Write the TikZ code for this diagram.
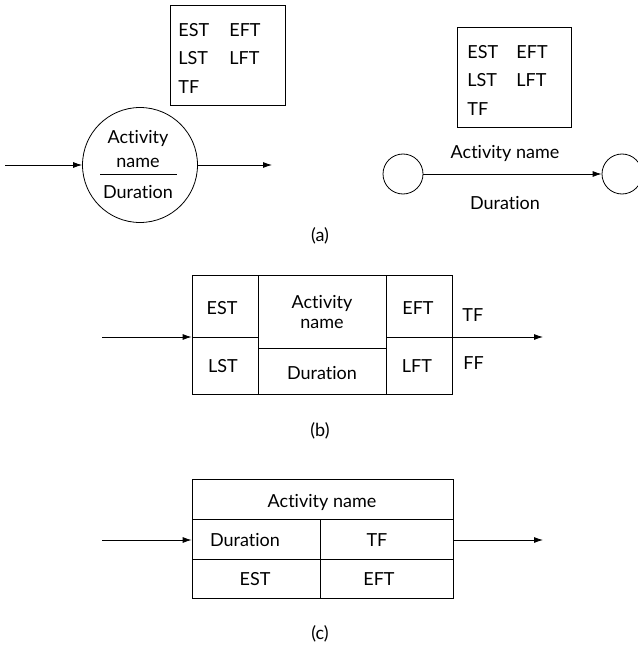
\documentclass[tikz,border=0pt]{standalone}
\usepackage{fontspec}
\setmainfont{Lato}[Ligatures={NoCommon,NoRare}]
\usetikzlibrary{arrows.meta}
\begin{document}
\begin{tikzpicture}[x=1pt,y=-1pt, line width=0.8pt,
  lbl/.style={font=\fontsize{18}{20}\selectfont, inner sep=0pt, text height=13pt, text depth=0pt},
  lw/.style={lbl, anchor=west},
  arr/.style={-{Latex[length=9pt,width=6pt]}},
  frame/.style={draw, inner sep=0pt},
  evt/.style={draw, circle, minimum size=40pt, inner sep=0pt}]
\useasboundingbox (0,0) rectangle (637,647);

% ---------- (a) left: activity on node ----------
\node[draw, circle, minimum size=115pt, inner sep=0pt] (c1) at (140,165) {};
\node[lbl] (c1a) at (138,137) {Activity};
\node[lbl] (c1b) at (138,161) {name};
\draw (100,174) -- (177,174);
\node[lbl] (c1c) at (138,192) {Duration};
\coordinate (a1in) at (5,165);
\coordinate (a1out) at (272,165);
\draw[arr] (a1in) -- (c1);
\draw[arr] (c1) -- (a1out);

\node[frame, minimum width=115pt, minimum height=100pt] (bx1) at (227.5,55) {};
\node[lw] (bx1a) at (178,30) {EST};
\node[lw] (bx1b) at (229,30) {EFT};
\node[lw] (bx1c) at (178,58) {LST};
\node[lw] (bx1d) at (229,58) {LFT};
\node[lw] (bx1e) at (178,87) {TF};

% ---------- (a) right: activity on arrow ----------
\node[frame, minimum width=114pt, minimum height=100pt] (bx2) at (514,77) {};
\node[lw] (bx2a) at (467,52) {EST};
\node[lw] (bx2b) at (516,52) {EFT};
\node[lw] (bx2c) at (467,80) {LST};
\node[lw] (bx2d) at (516,80) {LFT};
\node[lw] (bx2e) at (467,109) {TF};

\node[evt] (n1) at (403,174) {};
\node[evt] (n2) at (622,174) {};
\draw[arr] (n1) -- (n2);
\node[lbl] (an) at (505,152) {Activity name};
\node[lbl] (ad) at (505,203) {Duration};

\node[lbl] (la) at (320,235) {(a)};

% ---------- (b) ----------
\node[frame, minimum width=260pt, minimum height=119pt] (bb) at (322,334.5) {};
\draw (258,275) -- (258,394);
\draw (386,275) -- (386,394);
\draw (192,337) -- (258,337);
\draw (386,337) -- (452,337);
\draw (258,348) -- (386,348);
\node[lbl] (b1) at (222,308) {EST};
\node[lbl] (b2) at (223,366) {LST};
\node[lbl] (b3) at (322,302) {Activity};
\node[lbl] (b4) at (322,322) {name};
\node[lbl] (b5) at (322,373) {Duration};
\node[lbl] (b6) at (418,308) {EFT};
\node[lbl] (b7) at (417,366) {LFT};
\node[lw] (b8) at (462,315) {TF};
\node[lw] (b9) at (463,363) {FF};
\coordinate (bin) at (102,337);
\coordinate (bout) at (543,337);
\draw[arr] (bin) -- (bin -| bb.west);
\draw[arr] (bout -| bb.east) -- (bout);
\node[lbl] (lb) at (320,430) {(b)};

% ---------- (c) ----------
\node[frame, minimum width=261pt, minimum height=119pt] (cb) at (322.5,538.5) {};
\draw (192,519) -- (453,519);
\draw (192,559) -- (453,559);
\draw (320,519) -- (320,598);
\node[lbl] (cc1) at (322,501) {Activity name};
\node[lbl] (cc2) at (245,540) {Duration};
\node[lbl] (cc3) at (377,540) {TF};
\node[lbl] (cc4) at (255,579) {EST};
\node[lbl] (cc5) at (379,579) {EFT};
\coordinate (cin) at (102,540);
\coordinate (cout) at (543,540);
\draw[arr] (cin) -- (cin -| cb.west);
\draw[arr] (cout -| cb.east) -- (cout);
\node[lbl] (lc) at (320,633) {(c)};
\end{tikzpicture}
\end{document}
